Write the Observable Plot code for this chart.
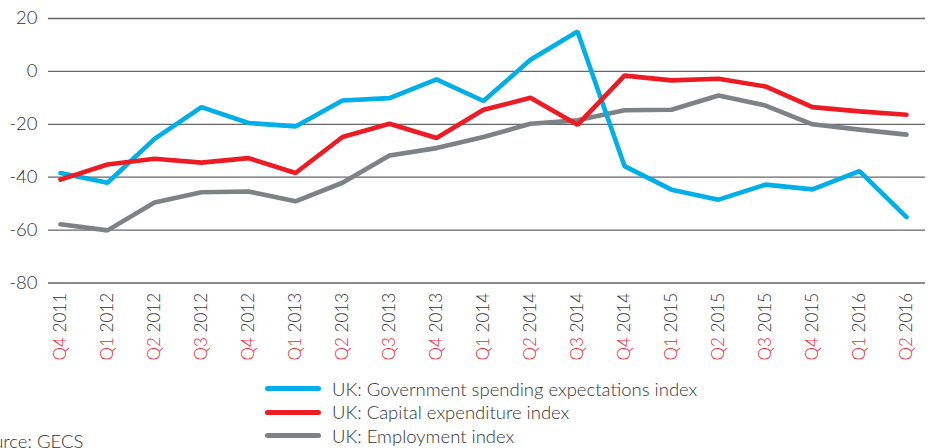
<!DOCTYPE html>
<html><head><meta charset="utf-8">
<script src="https://cdn.jsdelivr.net/npm/d3@7"></script>
<script src="https://cdn.jsdelivr.net/npm/@observablehq/plot@0.6"></script>
<style>
html,body{margin:0;padding:0;background:#fff}
body{width:933px;height:448px;overflow:hidden;position:relative;font-family:Lato,"Open Sans",sans-serif;color:#333}
#chart{position:absolute;left:0;top:0}
.legend{position:absolute;left:265px;top:377px}
.row{display:flex;align-items:center;height:23.5px;font-size:18.5px;font-weight:300;color:#333}
.sw{width:56px;height:5px;border-radius:3px;margin-right:11px}
.source{position:absolute;left:-27px;top:430px;font-size:18.5px;font-weight:300;color:#333;white-space:nowrap}
</style></head>
<body>
<div id="chart"></div>
<div class="legend" id="legend"></div>
<div class="source">Source: GECS</div>
<script>
const periods = ["Q4 2011","Q1 2012","Q2 2012","Q3 2012","Q4 2012","Q1 2013","Q2 2013","Q3 2013","Q4 2013","Q1 2014","Q2 2014","Q3 2014","Q4 2014","Q1 2015","Q2 2015","Q3 2015","Q4 2015","Q1 2016","Q2 2016"];
const govSpending = [-38.4,-42.1,-25.5,-13.5,-19.5,-20.8,-11,-10.1,-3,-11.2,4.4,15.1,-35.8,-44.7,-48.5,-42.8,-44.6,-37.7,-55.1];
const capex = [-40.9,-35.2,-33,-34.5,-32.8,-38.4,-24.8,-19.8,-25.2,-14.5,-10,-20.2,-1.6,-3.4,-2.8,-5.7,-13.5,-15.1,-16.4];
const employment = [-57.8,-60.1,-49.6,-45.7,-45.4,-49.1,-42.1,-31.8,-29,-24.8,-19.8,-18.5,-14.7,-14.5,-9.1,-12.9,-20,-22,-23.9];
const yTicks = [20,0,-20,-40,-60,-80];
const seriesNames = ["UK: Government spending expectations index","UK: Capital expenditure index","UK: Employment index"];
const seriesColors = ["#00aee8","#ed1c24","#7d8285"];

const rows = (vals, name) => periods.map((p,i)=>({period:p, value:vals[i], series:name}));
const gov = rows(govSpending, seriesNames[0]);
const cap = rows(capex, seriesNames[1]);
const emp = rows(employment, seriesNames[2]);

const chart = Plot.plot({
  width: 933,
  height: 372,
  marginTop: 18,
  marginBottom: 89.5,
  marginLeft: 48,
  marginRight: 8,
  style: {fontFamily: "Lato, sans-serif", background: "#fff", overflow: "visible"},
  x: {type: "point", domain: periods, padding: 0.264, align: 0.4},
  y: {domain: [-80, 20]},
  marks: [
    Plot.ruleY(yTicks, {stroke: "#666", strokeWidth: 1.3}),
    Plot.axisY({ticks: yTicks, tickSize: 0, tickPadding: 11, fontSize: 18.5, fill: "#333", tickFormat: d => String(d), label: null}),
    Plot.axisX({tickSize: 0, tickPadding: 10, tickRotate: -90, fontSize: 17, fill: "#333", label: null}),
    Plot.line(emp, {x: "period", y: "value", stroke: seriesColors[2], strokeWidth: 4.6, strokeLinejoin: "miter"}),
    Plot.line(gov, {x: "period", y: "value", stroke: seriesColors[0], strokeWidth: 4.6, strokeLinejoin: "miter"}),
    Plot.line(cap, {x: "period", y: "value", stroke: seriesColors[1], strokeWidth: 4.6, strokeLinejoin: "miter"})
  ]
});
document.getElementById("chart").appendChild(chart);

d3.select(chart).selectAll('g[aria-label="y-axis tick label"] text').style("font-weight", "300");

// colour the quarter part of each x tick label red
d3.select(chart).selectAll('g[aria-label="x-axis tick label"] text').each(function(){
  const t = d3.select(this);
  const s = t.text();
  const [q, y] = s.split(" ");
  t.style("font-family", "Lato, sans-serif").style("font-weight", "300");
  t.text(null);
  t.append("tspan").attr("fill", "#f0262e").text(q);
  t.append("tspan").attr("fill", "#333").text(" " + y);
});

const legend = document.getElementById("legend");
seriesNames.forEach((n,i)=>{
  const r = document.createElement("div"); r.className="row";
  const sw = document.createElement("div"); sw.className="sw"; sw.style.background=seriesColors[i];
  const tx = document.createElement("span"); tx.textContent=n;
  r.appendChild(sw); r.appendChild(tx); legend.appendChild(r);
});
</script>
</body></html>
